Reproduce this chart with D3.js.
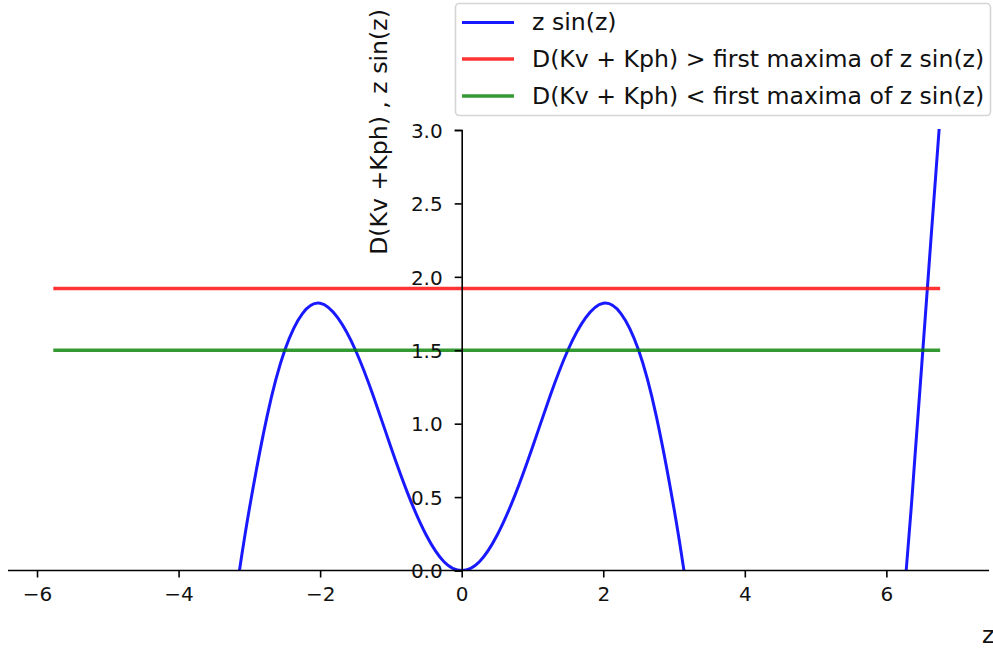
<!DOCTYPE html>
<html>
<head>
<meta charset="utf-8">
<script src="https://cdn.jsdelivr.net/npm/d3@7"></script>
<style>
  body { margin: 0; background: #fff; }
  svg { display: block; font-family: "DejaVu Sans", sans-serif; }
</style>
</head>
<body>
<div id="chart"></div>
<script>
// z sin(z), two visible pieces (rest is below 0 and clipped)
const archZ = [-3.14, -3.0, -2.75, -2.5, -2.25, -2.0, -1.75, -1.5, -1.25, -1.0, -0.75, -0.5, -0.25, 0,
               0.25, 0.5, 0.75, 1.0, 1.25, 1.5, 1.75, 2.0, 2.25, 2.5, 2.75, 3.0, 3.14];
const archY = [0.0, 0.42, 1.05, 1.50, 1.75, 1.82, 1.72, 1.50, 1.19, 0.84, 0.51, 0.24, 0.06, 0,
               0.06, 0.24, 0.51, 0.84, 1.19, 1.50, 1.72, 1.82, 1.75, 1.50, 1.05, 0.42, 0.0];
const tailZ = [6.28, 6.35, 6.4, 6.5, 6.6, 6.7, 6.76];
const tailY = [0.0, 0.42, 0.75, 1.40, 2.06, 2.71, 3.1];

// horizontal levels for D(Kv + Kph)
const levelNames = ["above", "below"];
const levelValues = [1.92, 1.5];
const levelColors = ["#ff0000", "#008000"];
const levelStart = -5.77;
const levelEnd = 6.76;

const xTicks = [-6, -4, -2, 0, 2, 4, 6];
const yTicks = [0.0, 0.5, 1.0, 1.5, 2.0, 2.5, 3.0];

const legendLabels = [
    "z sin(z)",
    "D(Kv + Kph) > first maxima of z sin(z)",
    "D(Kv + Kph) < first maxima of z sin(z)"
];
const legendColors = ["#0000ff", "#ff0000", "#008000"];

const width = 993;
const height = 649;

const svg = d3.select("#chart")
    .append("svg")
        .attr("width", width)
        .attr("height", height);

const x = d3.scaleLinear().domain([-6.41, 7.45]).range([8, 989]);
const y = d3.scaleLinear().domain([0, 3]).range([570.5, 130]);

svg.append("clipPath")
    .attr("id", "plot-clip")
    .append("rect")
        .attr("x", x.range()[0])
        .attr("y", y(3) - 1)
        .attr("width", x.range()[1] - x.range()[0])
        .attr("height", y(0) - y(3) + 1);

const plot = svg.append("g").attr("clip-path", "url(#plot-clip)");

const line = d3.line()
    .x(d => x(d[0]))
    .y(d => y(d[1]))
    .curve(d3.curveNatural);

const pieces = [
    d3.zip(archZ, archY),
    d3.zip(tailZ, tailY)
];

plot.selectAll("path.curve")
    .data(pieces)
    .enter()
    .append("path")
        .attr("class", "curve")
        .attr("d", line)
        .attr("fill", "none")
        .attr("stroke", "#0000ff")
        .attr("stroke-opacity", 0.9)
        .attr("stroke-width", 3);

plot.selectAll("line.level")
    .data(levelValues)
    .enter()
    .append("line")
        .attr("class", "level")
        .attr("x1", x(levelStart))
        .attr("x2", x(levelEnd))
        .attr("y1", d => y(d))
        .attr("y2", d => y(d))
        .attr("stroke", (d, i) => levelColors[i])
        .attr("stroke-opacity", 0.8)
        .attr("stroke-width", 3.5);

// x axis sits on y = 0
const xAxis = d3.axisBottom(x)
    .tickValues(xTicks)
    .tickSize(7)
    .tickPadding(9)
    .tickFormat(d => d3.format("")(d).replace("-", "\u2212"));

const gx = svg.append("g")
    .attr("transform", `translate(0,${y(0)})`)
    .call(xAxis);
gx.select(".domain").attr("d", `M${x.range()[0]},0H${x.range()[1]}`);

// y axis sits on z = 0
const yAxis = d3.axisLeft(y)
    .tickValues(yTicks)
    .tickSize(7)
    .tickPadding(12)
    .tickFormat(d3.format(".1f"));

const gy = svg.append("g")
    .attr("transform", `translate(${x(0)},0)`)
    .call(yAxis);

[gx, gy].forEach(g => {
    g.select(".domain").attr("stroke", "#000").attr("stroke-width", 1.6);
    g.selectAll(".tick line").attr("stroke", "#000").attr("stroke-width", 1.6);
    g.selectAll(".tick text")
        .attr("fill", "#111")
        .style("font-size", "20px")
        .style("font-family", "DejaVu Sans");
});
gx.selectAll(".tick text").attr("dy", "0.71em");
gy.selectAll(".tick text").attr("dy", "0.36em");

svg.append("text")
    .text("D(Kv +Kph) , z sin(z)")
    .attr("transform", "translate(387,132) rotate(-90)")
    .style("text-anchor", "middle")
    .style("font-size", "23.6px")
    .style("fill", "#111");

svg.append("text")
    .text("z")
    .attr("x", 982)
    .attr("y", 643)
    .style("font-size", "23.6px")
    .style("fill", "#111");

// legend
const legend = svg.append("g");

legend.append("rect")
    .attr("x", 455.5)
    .attr("y", 3.5)
    .attr("width", 535)
    .attr("height", 112)
    .attr("rx", 4)
    .attr("fill", "#fff")
    .attr("fill-opacity", 0.8)
    .attr("stroke", "#d5d5d5")
    .attr("stroke-width", 1.6);

const rowY = [22.5, 59, 96];

const rows = legend.selectAll("g.row")
    .data(legendLabels)
    .enter()
    .append("g")
        .attr("class", "row")
        .attr("transform", (d, i) => `translate(0,${rowY[i]})`);

rows.append("line")
    .attr("x1", 462)
    .attr("x2", 514)
    .attr("stroke", (d, i) => legendColors[i])
    .attr("stroke-opacity", (d, i) => i === 0 ? 0.9 : 0.8)
    .attr("stroke-width", (d, i) => i === 0 ? 3 : 3.5);

rows.append("text")
    .text(d => d)
    .attr("x", 532)
    .attr("y", 7.5)
    .style("font-size", "23.6px")
    .style("fill", "#111");
</script>
</body>
</html>
